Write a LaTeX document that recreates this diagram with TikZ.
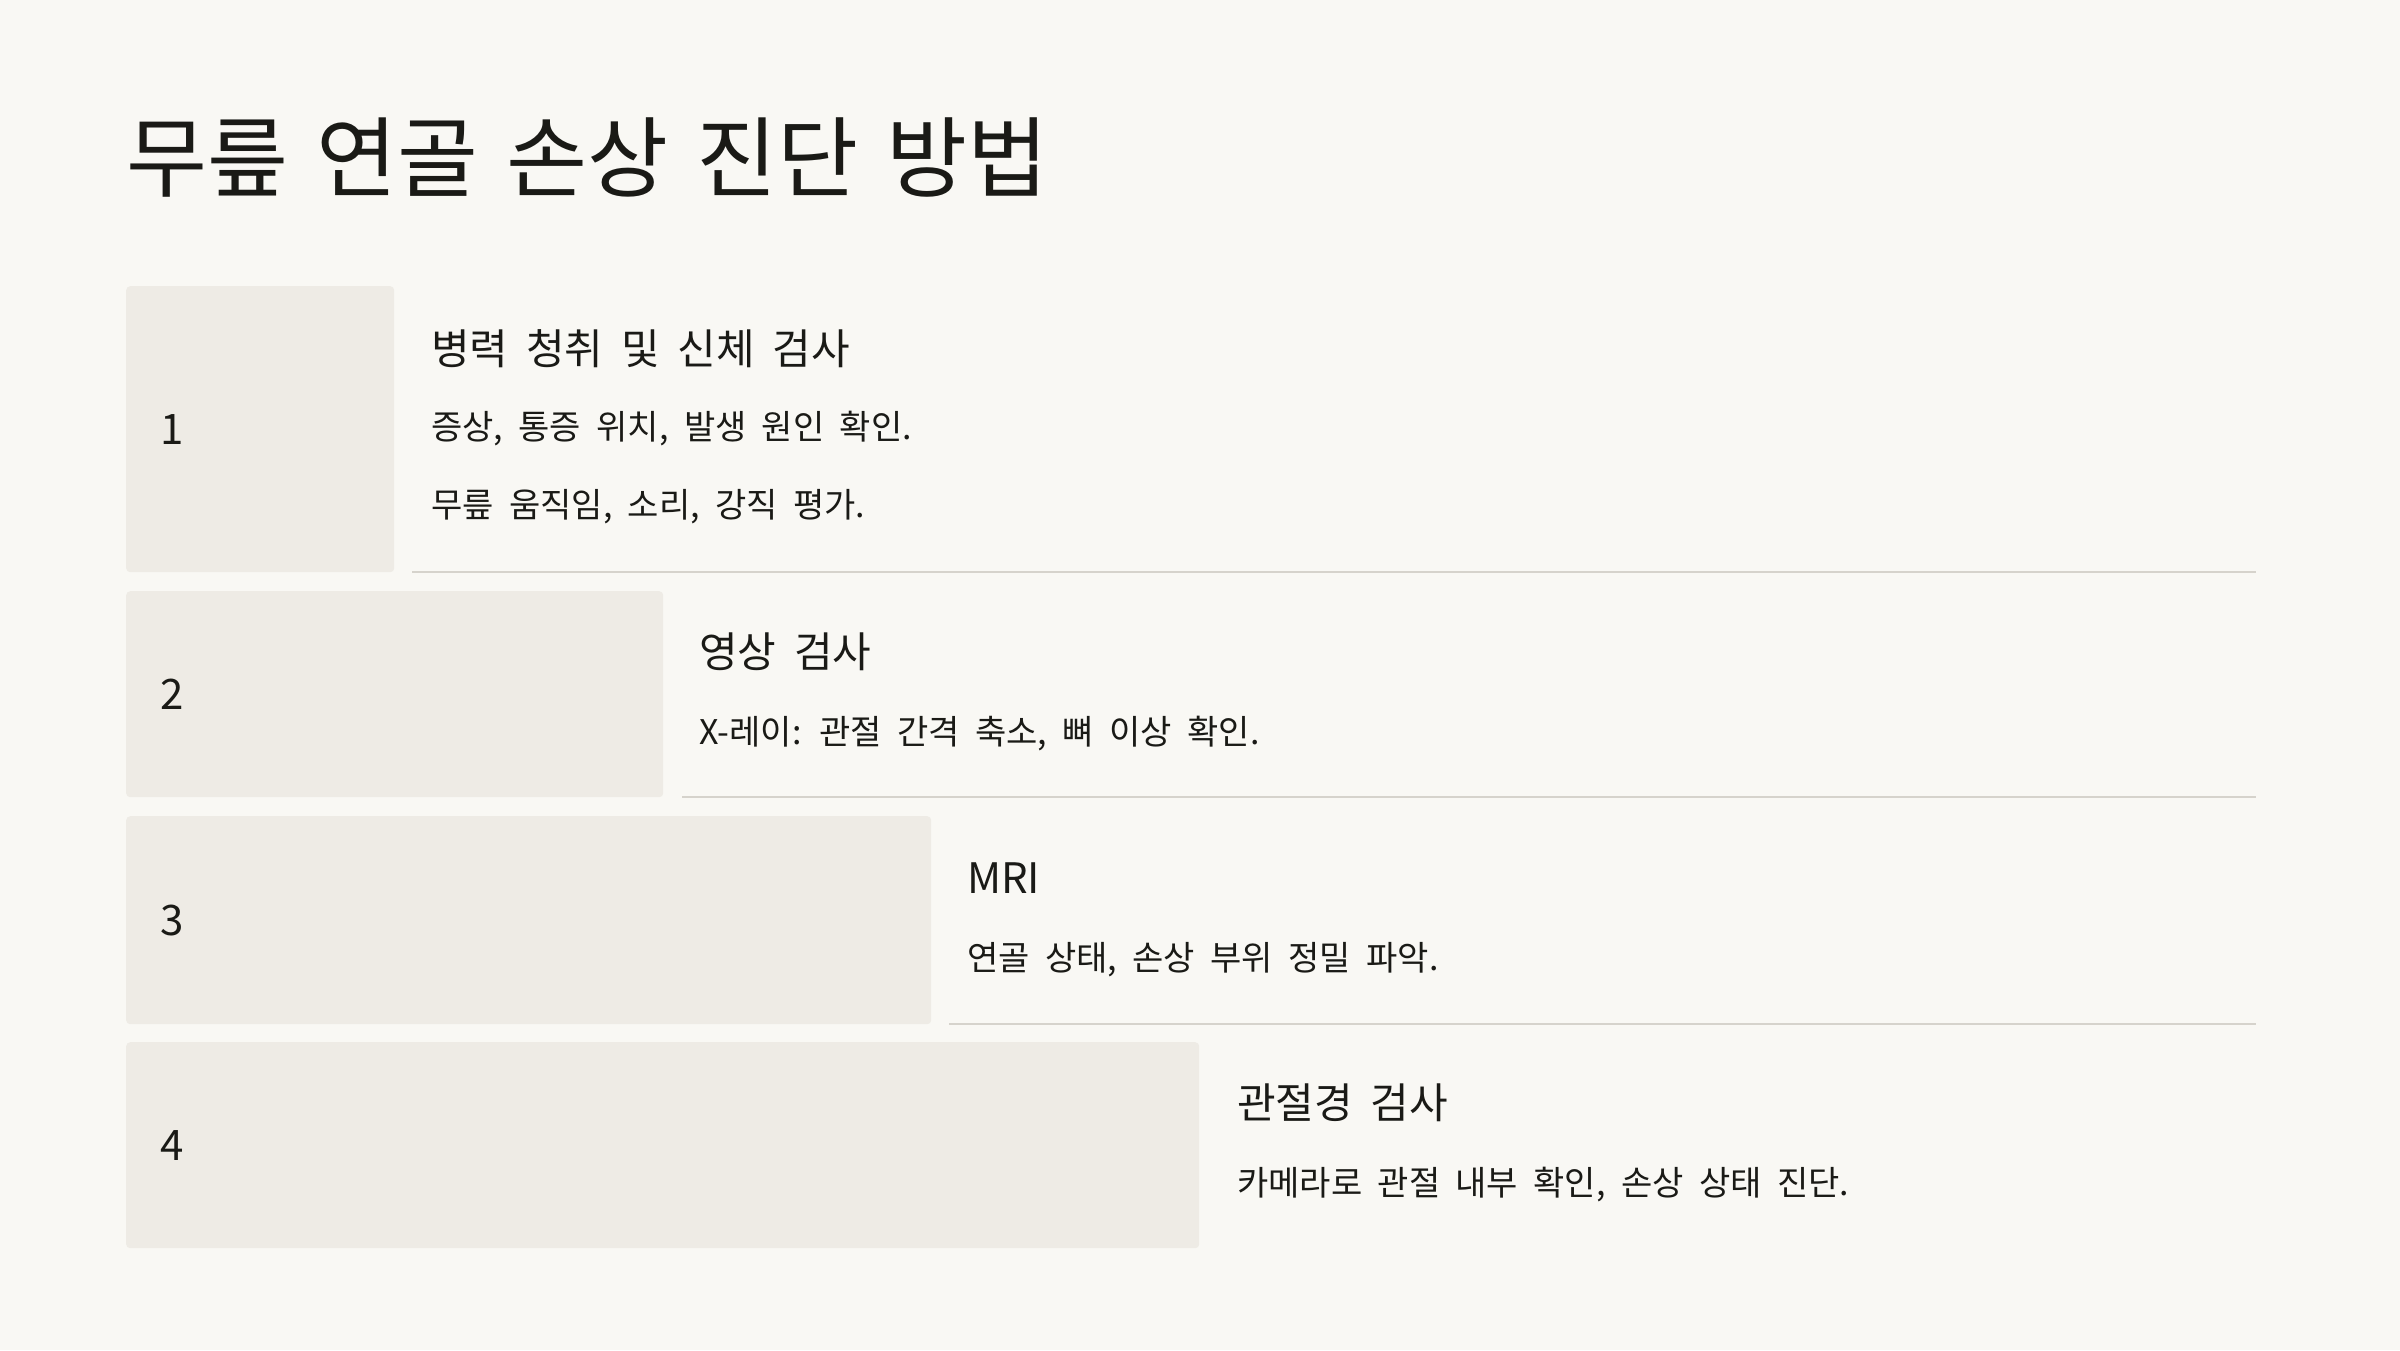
\documentclass[tikz,border=0pt]{standalone}
\usepackage{fontspec}
\setmainfont{Noto Sans CJK KR}
\newcommand{\tsp}{\hspace{8.5pt}}
\newcommand{\hsp}{\hspace{8.4pt}}
\newcommand{\bsp}{\hspace{7.8pt}}
\definecolor{bg}{RGB}{249,248,244}
\definecolor{boxfill}{RGB}{238,235,229}
\definecolor{rulecol}{RGB}{214,211,204}
\definecolor{ink}{RGB}{26,26,22}
\begin{document}
\begin{tikzpicture}[x=1pt,y=-1pt,
  stepbox/.style={fill=boxfill, rounded corners=4pt, inner sep=0, anchor=north west},
  numtext/.style={anchor=base west, inner sep=0, font=\fontsize{42}{50}\selectfont, text=ink},
  head/.style={anchor=base west, inner sep=0, font=\fontsize{42}{50}\selectfont, text=ink},
  body/.style={anchor=base west, inner sep=0, font=\fontsize{34}{40}\selectfont, text=ink},
  sep/.style={draw=rulecol, line width=2pt}]
\fill[bg] (0,0) rectangle (2400,1350);
\useasboundingbox (0,0) rectangle (2400,1350);
\node[anchor=base west, inner sep=0, font=\fontsize{88}{100}\selectfont, text=ink] (title) at (126,190) {무릎 \tsp 연골 \tsp 손상 \tsp 진단 \tsp 방법};
% step 1
\node[stepbox, minimum width=268, minimum height=286] (b1) at (126,286) {};
\node[numtext] (n1) at (160,444) {1};
\node[head] (h1) at (431,364) {병력 \hsp 청취 \hsp 및 \hsp 신체 \hsp 검사};
\node[body] (d1a) at (431,439) {증상, \bsp 통증 \bsp 위치, \bsp 발생 \bsp 원인 \bsp 확인.};
\node[body] (d1b) at (431,517) {무릎 \bsp 움직임, \bsp 소리, \bsp 강직 \bsp 평가.};
\coordinate (l1a) at (412,572); \coordinate (l1b) at (2256,572);
\draw[sep] (l1a) -- (l1b);
% step 2
\node[stepbox, minimum width=537, minimum height=206] (b2) at (126,591) {};
\node[numtext] (n2) at (160,709) {2};
\node[head] (h2) at (699,667) {영상 \hsp 검사};
\node[body] (d2) at (699,744) {X-레이: \bsp 관절 \bsp 간격 \bsp 축소, \bsp 뼈 \bsp 이상 \bsp 확인.};
\coordinate (l2a) at (682,797); \coordinate (l2b) at (2256,797);
\draw[sep] (l2a) -- (l2b);
% step 3
\node[stepbox, minimum width=805, minimum height=208] (b3) at (126,816) {};
\node[numtext] (n3) at (160,935) {3};
\node[head] (h3) at (967,893) {MRI};
\node[body] (d3) at (967,970) {연골 \bsp 상태, \bsp 손상 \bsp 부위 \bsp 정밀 \bsp 파악.};
\coordinate (l3a) at (949,1024); \coordinate (l3b) at (2256,1024);
\draw[sep] (l3a) -- (l3b);
% step 4
\node[stepbox, minimum width=1073, minimum height=206] (b4) at (126,1042) {};
\node[numtext] (n4) at (160,1160) {4};
\node[head] (h4) at (1237,1118) {관절경 \hsp 검사};
\node[body] (d4) at (1237,1195) {카메라로 \bsp 관절 \bsp 내부 \bsp 확인, \bsp 손상 \bsp 상태 \bsp 진단.};
\end{tikzpicture}
\end{document}
